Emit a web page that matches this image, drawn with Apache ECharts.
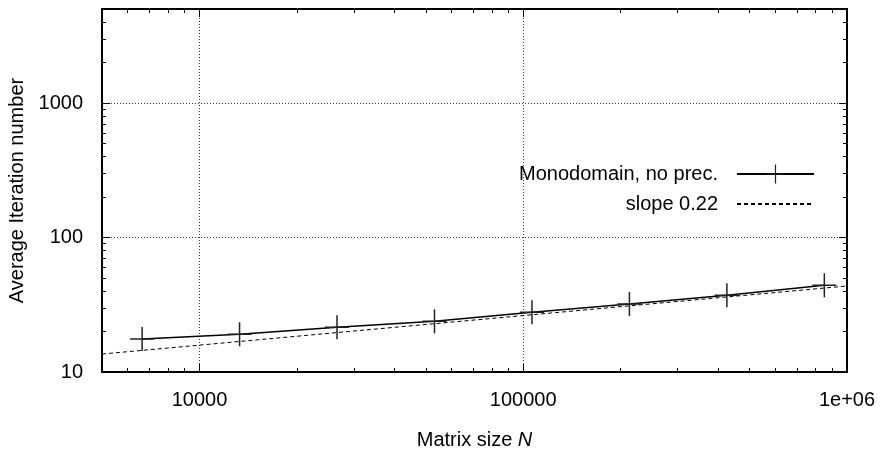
<!DOCTYPE html>
<html>
<head>
<meta charset="utf-8">
<title>Average Iteration number</title>
<script src="https://cdn.jsdelivr.net/npm/echarts@6/dist/echarts.min.js"></script>
<style>
html, body { margin: 0; padding: 0; background: #fff; }
#chartBox { width: 882px; height: 452px; }
</style>
</head>
<body>
<div id="chartBox"></div>
<script>
// measured points (matrix size N, average iterations)
var sizeN = [6650, 13300, 26600, 53200, 106400, 212800, 425600, 851200];
var avgIter = [17.6, 19.1, 21.5, 23.8, 27.8, 32.0, 37.2, 44.2];
// reference line with slope 0.22, end points
var slopeN = [5000, 1000000];
var slopeIter = [13.6, 43.6];

// axis ticks
var xMajor = [10000, 100000, 1000000];
var xMinor = [6000, 7000, 8000, 9000, 20000, 30000, 40000, 50000, 60000, 70000, 80000, 90000,
    200000, 300000, 400000, 500000, 600000, 700000, 800000, 900000];
var yMajor = [10, 100, 1000];
var yMinor = [20, 30, 40, 50, 60, 70, 80, 90, 200, 300, 400, 500, 600, 700, 800, 900, 2000, 3000, 4000];

var fontName = 'Liberation Sans';
var crossPath = 'path://M11.25,0h1.5v11.25h11.25v1.5h-11.25v11.25h-1.5v-11.25h-11.25v-1.5h11.25z';

var pairs = function (xs, ys) {
    var out = [];
    for (var i = 0; i < xs.length; i++) {
        out.push([xs[i], ys[i]]);
    }
    return out;
};

var fmtX = function (v) {
    var r = Math.round(v);
    return r === 1000000 ? '1e+06' : String(r);
};

// one helper for all the log axes: main one has labels, others only ticks
var makeAxis = function (kind, pos, ticks, len, withLabels) {
    var ax = {
        type: 'log',
        logBase: 10,
        position: pos,
        min: kind === 'x' ? 5000 : 10,
        max: kind === 'x' ? 1000000 : 5000,
        axisLine: { show: withLabels || pos === 'top' || pos === 'right', onZero: false,
            lineStyle: { color: '#000', width: 2 } },
        axisTick: { show: true, inside: true, length: len, customValues: ticks,
            lineStyle: { color: '#000', width: 1 } },
        axisLabel: { show: false },
        splitLine: { show: false },
        minorTick: { show: false }
    };
    if (withLabels) {
        ax.axisLabel = {
            show: true,
            customValues: ticks,
            color: '#000',
            fontFamily: fontName,
            fontSize: 20,
            margin: kind === 'x' ? 18 : 19,
            formatter: kind === 'x' ? fmtX : function (v) { return String(Math.round(v)); }
        };
        ax.splitLine = { show: true, lineStyle: { color: '#333', width: 1, type: [1, 2] } };
    }
    return ax;
};

var xAxes = [
    makeAxis('x', 'bottom', xMajor, 8, true),
    makeAxis('x', 'bottom', xMinor, 4, false),
    makeAxis('x', 'top', xMajor, 8, false),
    makeAxis('x', 'top', xMinor, 4, false)
];
xAxes[0].name = '{t|Matrix size }{i|N}';
xAxes[0].nameLocation = 'middle';
xAxes[0].nameGap = 58;
xAxes[0].nameTextStyle = {
    rich: {
        t: { fontFamily: fontName, fontSize: 20, color: '#000' },
        i: { fontFamily: fontName, fontSize: 20, color: '#000', fontStyle: 'italic' }
    }
};

var yAxes = [
    makeAxis('y', 'left', yMajor, 8, true),
    makeAxis('y', 'left', yMinor, 4, false),
    makeAxis('y', 'right', yMajor, 8, false),
    makeAxis('y', 'right', yMinor, 4, false)
];
yAxes[0].name = 'Average Iteration number';
yAxes[0].nameLocation = 'middle';
yAxes[0].nameRotate = 90;
yAxes[0].nameGap = 74;
yAxes[0].nameTextStyle = { fontFamily: fontName, fontSize: 20, color: '#000' };

var option = {
    animation: false,
    backgroundColor: '#fff',
    grid: { left: 102, right: 35, top: 9, bottom: 80, outerBoundsMode: 'none' },
    legend: {
        orient: 'vertical',
        align: 'right',
        right: 62,
        top: 159,
        itemWidth: 77,
        itemHeight: 24,
        itemGap: 10,
        textStyle: { fontFamily: fontName, fontSize: 20, color: '#000', padding: [0, 14, 0, 0] },
        data: [
            'Monodomain, no prec.',
            { name: 'slope 0.22', itemStyle: { opacity: 0 } }
        ]
    },
    xAxis: xAxes,
    yAxis: yAxes,
    series: [
        {
            name: 'Monodomain, no prec.',
            type: 'line',
            xAxisIndex: 0,
            yAxisIndex: 0,
            data: pairs(sizeN, avgIter),
            symbol: crossPath,
            symbolSize: 24,
            itemStyle: { color: '#222' },
            lineStyle: { color: '#000', width: 1.5 },
            z: 3
        },
        {
            name: 'slope 0.22',
            type: 'line',
            xAxisIndex: 0,
            yAxisIndex: 0,
            data: pairs(slopeN, slopeIter),
            symbol: 'none',
            itemStyle: { color: '#000' },
            lineStyle: { color: '#000', width: 1, type: [4, 3] },
            z: 2
        }
    ]
};

var chart = echarts.init(document.getElementById('chartBox'));
chart.setOption(option);
</script>
</body>
</html>
